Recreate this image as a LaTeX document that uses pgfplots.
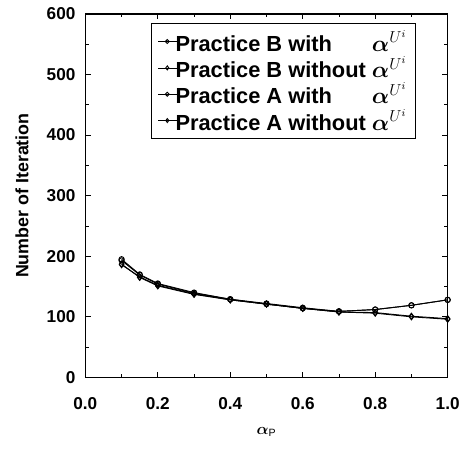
\documentclass[border=0pt]{standalone}
\usepackage{pgfplots}
\pgfplotsset{compat=1.18}
\usepackage{amsmath}
\usepackage{bm}
\usepackage{fontspec}
\setmainfont{Liberation Sans}
\begin{document}
\begin{tikzpicture}
\begin{axis}[
  scale only axis, clip=false,
  width=274pt, height=275pt,
  xmin=0, xmax=1, ymin=0, ymax=600,
  xtick={0,0.2,...,1.0}, ytick={0,100,...,600},
  minor xtick={0.1,0.3,0.5,0.7,0.9},
  minor ytick={50,150,...,550},
  tick align=inside,
  major tick length=4pt, minor tick length=2.5pt,
  axis line style={line width=1.1pt},
  every tick/.style={line width=0.6pt, black},
  /pgf/number format/assume math mode=true,
  xticklabel style={/pgf/number format/fixed, /pgf/number format/fixed zerofill, /pgf/number format/precision=1, yshift=-12pt},
  yticklabel style={xshift=-4pt},
  tick label style={font=\bfseries\fontsize{13}{15}\selectfont},
  scaled x ticks=false,
  ylabel={\bfseries Number of Iteration},
  ylabel style={font=\fontsize{13.5}{15}\selectfont, at={(axis description cs:-0.175,0.5)}, anchor=center},
  xlabel={$\bm{\alpha}_{\mathrm P}$},
  xlabel style={font=\fontsize{12}{14}\selectfont, at={(axis description cs:0.5,-0.15)}, anchor=center},
  legend style={at={(0.18,0.975)}, anchor=north west, draw=black, line width=0.8pt,
    font=\bfseries\fontsize{16.5}{18}\selectfont, cells={anchor=west}, row sep=-1.5pt,
    inner ysep=3pt, inner xsep=5pt, /tikz/every odd column/.style={}},
  legend image code/.code={\draw[mark repeat=2,mark phase=2,#1, line width=0.5pt, mark size=1.5pt] plot coordinates {(0pt,0pt) (7pt,0pt) (14pt,0pt)};},
]
\addplot[black, line width=0.7pt, mark=o, mark size=2pt, mark options={solid, line width=0.7pt}] coordinates {
(0.1,195) (0.15,170) (0.2,155) (0.3,140) (0.4,129) (0.5,121) (0.6,114) (0.7,109) (0.8,112) (0.9,119) (1.0,128)};
\addlegendentry{\hspace{-3pt}Practice B with\phantom{out} $\bm{\alpha}^{U^i}$}
\addplot[black, line width=0.7pt, mark=diamond, mark size=2.3pt, mark options={solid, line width=0.7pt}] coordinates {
(0.1,186) (0.15,166) (0.2,152) (0.3,138) (0.4,128) (0.5,121) (0.6,114) (0.7,108) (0.8,106) (0.9,100) (1.0,96)};
\addlegendentry{\hspace{-3pt}Practice B without $\bm{\alpha}^{U^i}$}
\addplot[black, line width=0.7pt, mark=o, mark size=2pt, mark options={solid, line width=0.7pt}] coordinates {
(0.1,193) (0.15,169) (0.2,154) (0.3,139) (0.4,129) (0.5,122) (0.6,115) (0.7,109) (0.8,112) (0.9,119) (1.0,128)};
\addlegendentry{\hspace{-3pt}Practice A with\phantom{out} $\bm{\alpha}^{U^i}$}
\addplot[black, line width=0.7pt, mark=diamond, mark size=2.3pt, mark options={solid, line width=0.7pt}] coordinates {
(0.1,187) (0.15,165) (0.2,151) (0.3,137) (0.4,128) (0.5,121) (0.6,114) (0.7,108) (0.8,107) (0.9,101) (1.0,97)};
\addlegendentry{\hspace{-3pt}Practice A without $\bm{\alpha}^{U^i}$}
\path (rel axis cs:-0.2356,-0.207) rectangle (rel axis cs:1.0356,1.038);
\end{axis}
\end{tikzpicture}
\end{document}
